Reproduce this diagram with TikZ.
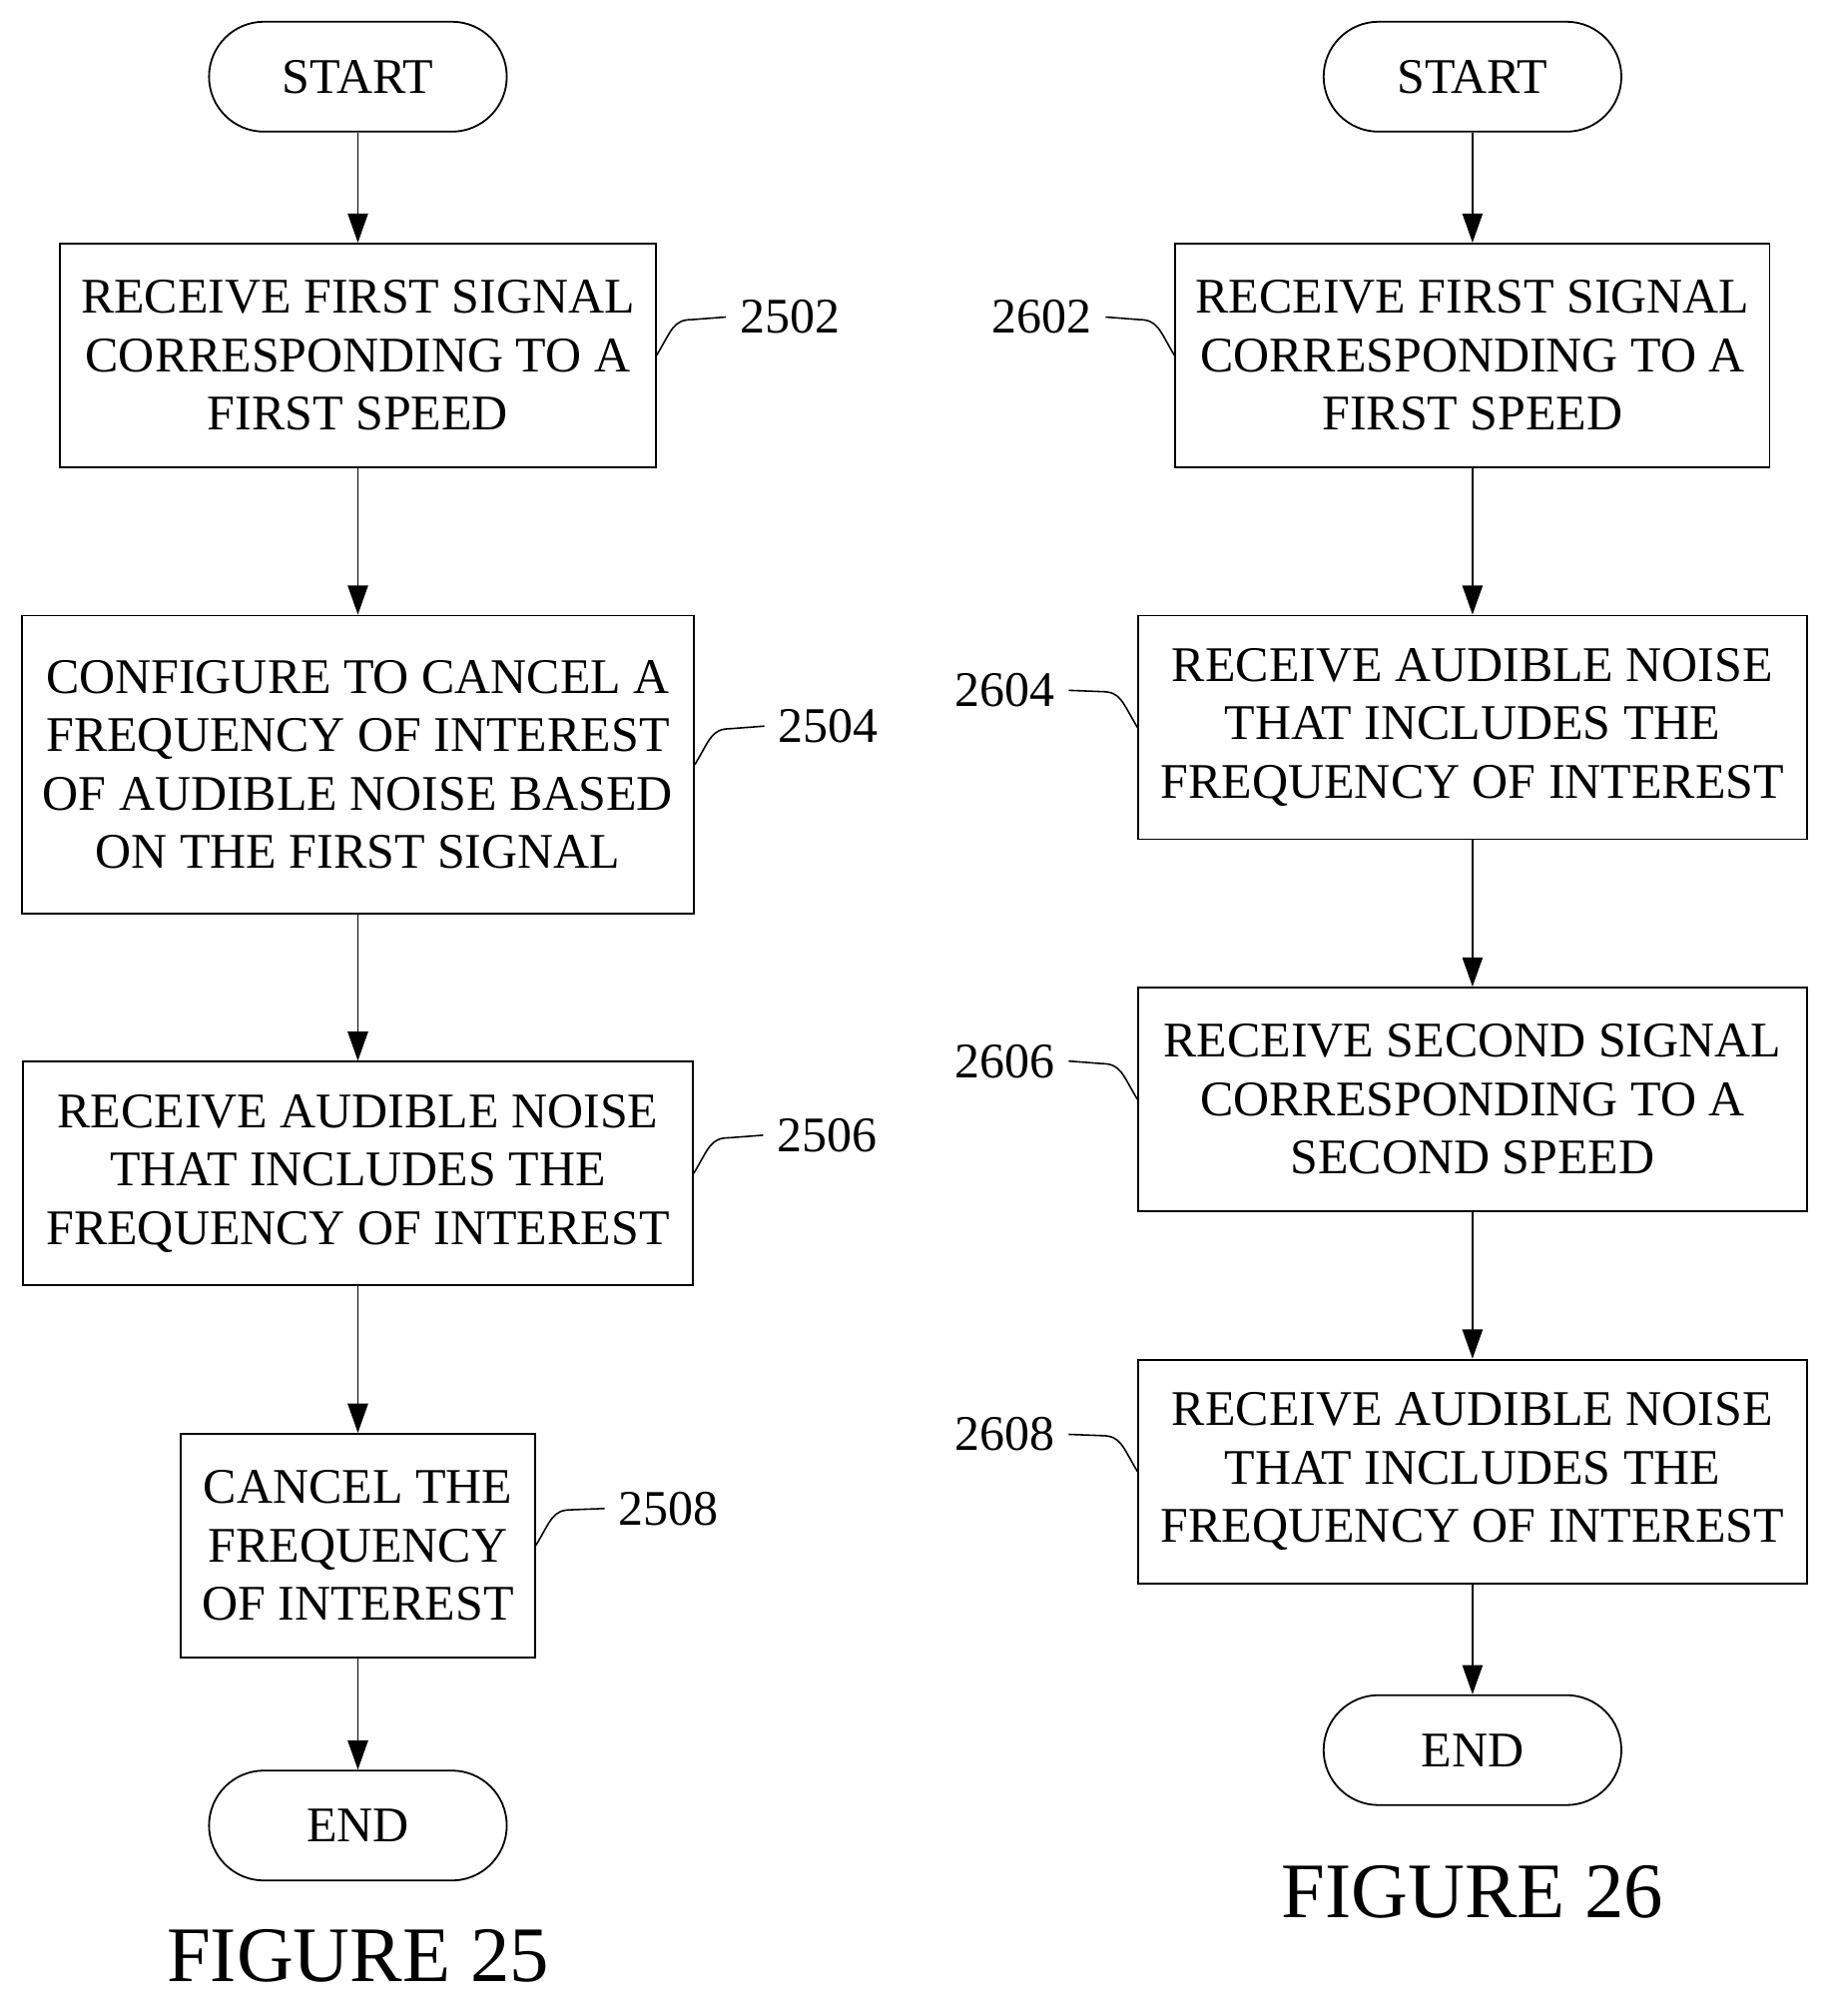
\documentclass[tikz,border=0pt]{standalone}
\usepackage{fontspec}
\setmainfont{Liberation Serif}
\usetikzlibrary{arrows.meta, positioning}
\tikzset{
  box/.style={draw, line width=0.8pt, align=center, inner sep=0pt, font=\fontsize{22.2}{26}\selectfont},
  term/.style={draw, line width=0.8pt, rounded corners=0.86cm, minimum width=4.66cm, minimum height=1.72cm, font=\fontsize{22.2}{26}\selectfont},
  flow/.style={line width=0.8pt, -{Triangle[length=13pt, width=9pt]}},
  ref/.style={font=\fontsize{22.2}{26}\selectfont, inner sep=6pt},
  lead/.style={line width=0.7pt},
  figlabel/.style={font=\fontsize{35}{40}\selectfont}
}
\begin{document}
\begin{tikzpicture}[x=0.02cm, y=-0.02cm]
	\useasboundingbox (0,0) rectangle (1440,1577);
	% figure 25
	\node[term] (s25) at (280,60) {START};
	\node[box, minimum width=9.32cm, minimum height=3.5cm] (b2502) at (280,278) {RECEIVE FIRST SIGNAL\\CORRESPONDING TO A\\FIRST SPEED};
	\node[box, minimum width=10.52cm, minimum height=4.66cm] (b2504) at (280,598) {CONFIGURE TO CANCEL A\\FREQUENCY OF INTEREST\\OF AUDIBLE NOISE BASED\\ON THE FIRST SIGNAL};
	\node[box, minimum width=10.48cm, minimum height=3.5cm] (b2506) at (280,918) {RECEIVE AUDIBLE NOISE\\THAT INCLUDES THE\\FREQUENCY OF INTEREST};
	\node[box, minimum width=5.54cm, minimum height=3.5cm] (b2508) at (280,1209) {CANCEL THE\\FREQUENCY\\OF INTEREST};
	\node[term] (e25) at (280,1428) {END};
	\node[figlabel] (f25) at (280,1530) {FIGURE 25};
	\draw[flow] (s25) -- (b2502);
	\draw[flow] (b2502) -- (b2504);
	\draw[flow] (b2504) -- (b2506);
	\draw[flow] (b2506) -- (b2508);
	\draw[flow] (b2508) -- (e25);
	% reference numerals, left
	\node[ref, anchor=west] (l2502) at (568,248) {2502};
	\node[ref, anchor=west] (l2504) at (598,568) {2504};
	\node[ref, anchor=west] (l2506) at (597,888) {2506};
	\node[ref, anchor=west] (l2508) at (473,1180) {2508};
	\foreach \b/\l in {b2502/l2502, b2504/l2504, b2506/l2506, b2508/l2508}
		\draw[lead] (\b.east) .. controls +(12,-20) and +(-15,0) .. ++(28,-28) -- (\l.west);
	% figure 26
	\node[term] (s26) at (1152,60) {START};
	\node[box, minimum width=9.3cm, minimum height=3.5cm] (b2602) at (1152,278) {RECEIVE FIRST SIGNAL\\CORRESPONDING TO A\\FIRST SPEED};
	\node[box, minimum width=10.46cm, minimum height=3.5cm] (b2604) at (1152,569) {RECEIVE AUDIBLE NOISE\\THAT INCLUDES THE\\FREQUENCY OF INTEREST};
	\node[box, minimum width=10.46cm, minimum height=3.5cm] (b2606) at (1152,860) {RECEIVE SECOND SIGNAL\\CORRESPONDING TO A\\SECOND SPEED};
	\node[box, minimum width=10.46cm, minimum height=3.5cm] (b2608) at (1152,1151) {RECEIVE AUDIBLE NOISE\\THAT INCLUDES THE\\FREQUENCY OF INTEREST};
	\node[term] (e26) at (1152,1369) {END};
	\node[figlabel] (f26) at (1152,1480) {FIGURE 26};
	\draw[flow] (s26) -- (b2602);
	\draw[flow] (b2602) -- (b2604);
	\draw[flow] (b2604) -- (b2606);
	\draw[flow] (b2606) -- (b2608);
	\draw[flow] (b2608) -- (e26);
	% reference numerals, right
	\node[ref, anchor=east] (l2602) at (865,248) {2602};
	\node[ref, anchor=east] (l2604) at (836,540) {2604};
	\node[ref, anchor=east] (l2606) at (836,830) {2606};
	\node[ref, anchor=east] (l2608) at (836,1122) {2608};
	\foreach \b/\l in {b2602/l2602, b2604/l2604, b2606/l2606, b2608/l2608}
		\draw[lead] (\b.west) .. controls +(-12,-20) and +(15,0) .. ++(-28,-28) -- (\l.east);
\end{tikzpicture}
\end{document}
